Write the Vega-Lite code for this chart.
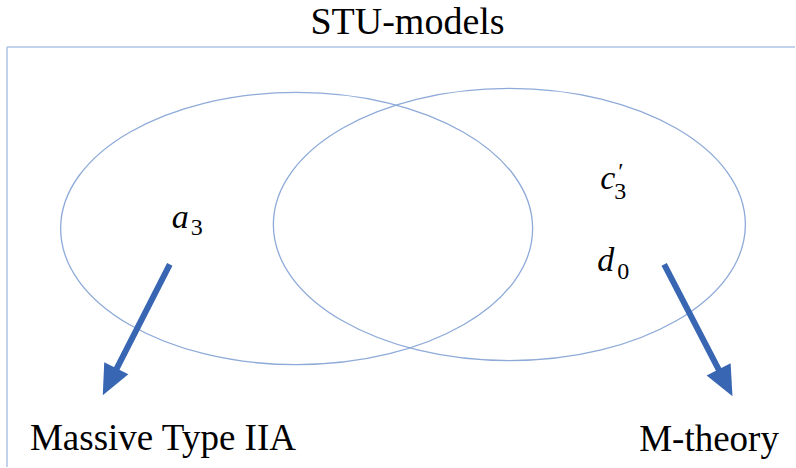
{
  "$schema": "https://vega.github.io/schema/vega-lite/v6.json",
  "width": 796,
  "height": 468,
  "padding": 0,
  "autosize": {"type": "fit", "contains": "padding"},
  "background": "white",
  "config": {"view": {"stroke": null}},
  "datasets": {
    "sets": [
      {"set": "left", "x": 297, "y": 229},
      {"set": "right", "x": 510, "y": 225}
    ],
    "frame": [
      {"edge": "top", "x": 7, "y": 47, "x2": 796, "y2": 47},
      {"edge": "left", "x": 7, "y": 47, "x2": 7, "y2": 468}
    ],
    "arrows": [
      {"to": "Massive Type IIA", "x": 170, "y": 265, "x2": 113, "y2": 377},
      {"to": "M-theory", "x": 665, "y": 265, "x2": 723, "y2": 377}
    ],
    "heads": [
      {"to": "Massive Type IIA", "x": 115, "y": 372},
      {"to": "M-theory", "x": 721, "y": 373}
    ],
    "labels": [
      {"t": "STU-models", "x": 408, "y": 34, "kind": "title"},
      {"t": "Massive Type IIA", "x": 30, "y": 451, "kind": "label"},
      {"t": "M-theory", "x": 640, "y": 452, "kind": "label"},
      {"t": "a", "x": 172, "y": 228, "kind": "var"},
      {"t": "3", "x": 191, "y": 236, "kind": "sub"},
      {"t": "c", "x": 601, "y": 189, "kind": "var"},
      {"t": "′", "x": 619, "y": 179, "kind": "prime"},
      {"t": "3", "x": 615, "y": 199, "kind": "sub"},
      {"t": "d", "x": 598, "y": 272, "kind": "var"},
      {"t": "0", "x": 618, "y": 280, "kind": "sub"}
    ]
  },
  "layer": [
    {
      "data": {"name": "frame"},
      "mark": {"type": "rule", "stroke": "#aec3e6", "strokeWidth": 1.5},
      "encoding": {
        "x": {"field": "x", "type": "quantitative", "scale": {"domain": [0, 796], "nice": false, "zero": false}, "axis": null},
        "y": {"field": "y", "type": "quantitative", "scale": {"domain": [0, 468], "nice": false, "zero": false, "reverse": true}, "axis": null},
        "x2": {"field": "x2"},
        "y2": {"field": "y2"}
      }
    },
    {
      "data": {"name": "sets"},
      "mark": {"type": "point", "filled": false, "stroke": "#8eaad8", "strokeWidth": 1.3, "opacity": 1,
        "shape": "M-1,0A1,0.577 0 1,0 1,0A1,0.577 0 1,0 -1,0", "size": 222784},
      "encoding": {
        "x": {"field": "x", "type": "quantitative", "scale": {"domain": [0, 796], "nice": false, "zero": false}, "axis": null},
        "y": {"field": "y", "type": "quantitative", "scale": {"domain": [0, 468], "nice": false, "zero": false, "reverse": true}, "axis": null}
      }
    },
    {
      "data": {"name": "arrows"},
      "mark": {"type": "rule", "stroke": "#3866b2", "strokeWidth": 6},
      "encoding": {
        "x": {"field": "x", "type": "quantitative", "scale": {"domain": [0, 796], "nice": false, "zero": false}, "axis": null},
        "y": {"field": "y", "type": "quantitative", "scale": {"domain": [0, 468], "nice": false, "zero": false, "reverse": true}, "axis": null},
        "x2": {"field": "x2"},
        "y2": {"field": "y2"}
      }
    },
    {
      "data": {"name": "heads"},
      "transform": [{"filter": "datum.to === 'Massive Type IIA'"}],
      "mark": {"type": "point", "filled": true, "fill": "#3866b2", "opacity": 1, "strokeWidth": 0,
        "shape": "M0,1L-0.5,-0.12L0.5,-0.12Z", "size": 2916, "angle": 26.6},
      "encoding": {
        "x": {"field": "x", "type": "quantitative", "scale": {"domain": [0, 796], "nice": false, "zero": false}, "axis": null},
        "y": {"field": "y", "type": "quantitative", "scale": {"domain": [0, 468], "nice": false, "zero": false, "reverse": true}, "axis": null}
      }
    },
    {
      "data": {"name": "heads"},
      "transform": [{"filter": "datum.to === 'M-theory'"}],
      "mark": {"type": "point", "filled": true, "fill": "#3866b2", "opacity": 1, "strokeWidth": 0,
        "shape": "M0,1L-0.5,-0.12L0.5,-0.12Z", "size": 2916, "angle": 332.7},
      "encoding": {
        "x": {"field": "x", "type": "quantitative", "scale": {"domain": [0, 796], "nice": false, "zero": false}, "axis": null},
        "y": {"field": "y", "type": "quantitative", "scale": {"domain": [0, 468], "nice": false, "zero": false, "reverse": true}, "axis": null}
      }
    },
    {
      "data": {"name": "labels"},
      "transform": [{"filter": "datum.kind === 'title'"}],
      "mark": {"type": "text", "font": "'Liberation Serif', 'DejaVu Serif', serif", "fontSize": 38, "align": "center", "baseline": "alphabetic", "color": "black"},
      "encoding": {
        "x": {"field": "x", "type": "quantitative", "scale": {"domain": [0, 796], "nice": false, "zero": false}, "axis": null},
        "y": {"field": "y", "type": "quantitative", "scale": {"domain": [0, 468], "nice": false, "zero": false, "reverse": true}, "axis": null},
        "text": {"field": "t"}
      }
    },
    {
      "data": {"name": "labels"},
      "transform": [{"filter": "datum.kind === 'label'"}],
      "mark": {"type": "text", "font": "'Liberation Serif', 'DejaVu Serif', serif", "fontSize": 37, "align": "left", "baseline": "alphabetic", "color": "black"},
      "encoding": {
        "x": {"field": "x", "type": "quantitative", "scale": {"domain": [0, 796], "nice": false, "zero": false}, "axis": null},
        "y": {"field": "y", "type": "quantitative", "scale": {"domain": [0, 468], "nice": false, "zero": false, "reverse": true}, "axis": null},
        "text": {"field": "t"}
      }
    },
    {
      "data": {"name": "labels"},
      "transform": [{"filter": "datum.kind === 'var'"}],
      "mark": {"type": "text", "font": "'Liberation Serif', 'DejaVu Serif', serif", "fontSize": 34, "fontStyle": "italic", "align": "left", "baseline": "alphabetic", "color": "black"},
      "encoding": {
        "x": {"field": "x", "type": "quantitative", "scale": {"domain": [0, 796], "nice": false, "zero": false}, "axis": null},
        "y": {"field": "y", "type": "quantitative", "scale": {"domain": [0, 468], "nice": false, "zero": false, "reverse": true}, "axis": null},
        "text": {"field": "t"}
      }
    },
    {
      "data": {"name": "labels"},
      "transform": [{"filter": "datum.kind === 'sub' || datum.kind === 'prime'"}],
      "mark": {"type": "text", "font": "'Liberation Serif', 'DejaVu Serif', serif", "fontSize": 24, "align": "left", "baseline": "alphabetic", "color": "black"},
      "encoding": {
        "x": {"field": "x", "type": "quantitative", "scale": {"domain": [0, 796], "nice": false, "zero": false}, "axis": null},
        "y": {"field": "y", "type": "quantitative", "scale": {"domain": [0, 468], "nice": false, "zero": false, "reverse": true}, "axis": null},
        "text": {"field": "t"}
      }
    }
  ]
}
